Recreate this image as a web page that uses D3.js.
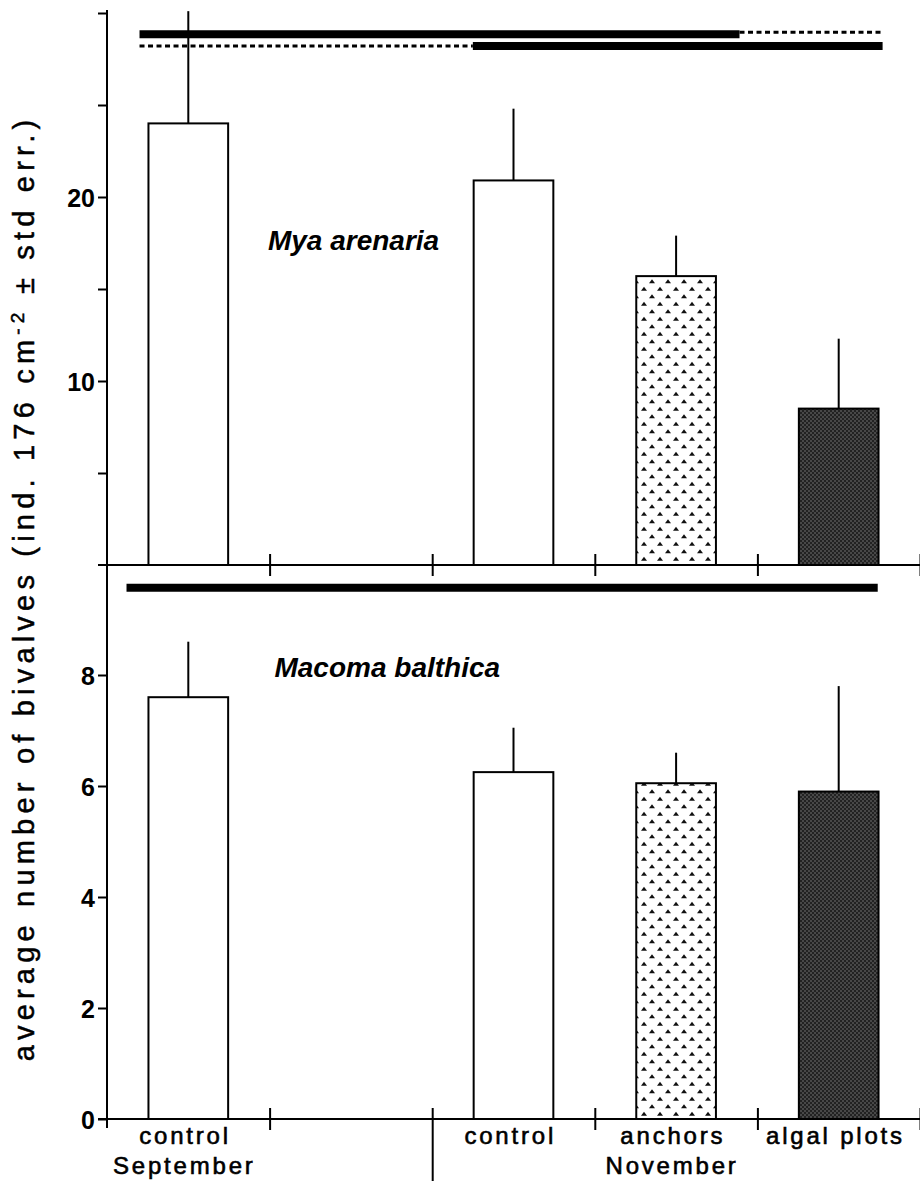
<!DOCTYPE html>
<html>
<head>
<meta charset="utf-8">
<style>
  body { margin: 0; background: #fff; }
  svg text { font-family: "Liberation Sans", Arial, sans-serif; fill: #000; }
  .tick-lbl { font-size: 25px; font-weight: bold; }
  .cat { font-size: 24px; letter-spacing: 2.8px; stroke: #000; stroke-width: 0.6px; }
  .species { font-size: 28px; font-weight: bold; font-style: italic; }
</style>
</head>
<body>
<svg width="920" height="1185"></svg>
<script src="https://d3js.org/d3.v7.min.js"></script>
<script>
// ---- data ----
var categories = ["control", "", "control", "anchors", "algal plots"];
var months = [{ name: "September", pos: 0 }, { name: "November", pos: 3 }];
var fills = ["white", "none", "white", "anchors", "algal"];

// Mya arenaria (top panel)
var myaMean = [24.0, null, 20.9, 15.7, 8.5];
var myaErr  = [6.1, null, 3.9, 2.2, 3.8];
// Macoma balthica (bottom panel)
var macMean = [7.6, null, 6.25, 6.05, 5.9];
var macErr  = [1.0, null, 0.8, 0.55, 1.9];

var myaTicks = [5, 10, 15, 20, 25, 30];
var myaLabels = [10, 20];
var macTicks = [0, 2, 4, 6, 8];

// homogeneous groups (x in category units, y in data units)
var myaSig = [
  { x0: 0.2, x1: 3.89, y: 28.85, kind: "solid" },
  { x0: 3.89, x1: 4.77, y: 28.95, kind: "dot" },
  { x0: 0.2, x1: 2.25, y: 28.2, kind: "dot" },
  { x0: 2.25, x1: 4.77, y: 28.2, kind: "solid" }
];
var macSig = [{ x0: 0.12, x1: 4.74, y: 9.57, kind: "solid" }];

var svg = d3.select("svg");
var defs = svg.append("defs");

// anchors: little dark arches on white, staggered
var pa = defs.append("pattern").attr("id", "anchors")
  .attr("patternUnits", "userSpaceOnUse").attr("width", 16).attr("height", 15);
pa.append("rect").attr("width", 16).attr("height", 15).attr("fill", "#fff");
[[4, 4], [12, 11.5]].forEach(function (p) {
  pa.append("path")
    .attr("d", "M" + (p[0] - 3) + "," + (p[1] + 1.8) + " L" + p[0] + "," + (p[1] - 2.2) + " L" + (p[0] + 3) + "," + (p[1] + 1.8) + " Z")
    .attr("fill", "#111");
});

// algal plots: dark fine-grained texture
var pg = defs.append("pattern").attr("id", "algal")
  .attr("patternUnits", "userSpaceOnUse").attr("width", 4).attr("height", 4);
pg.append("rect").attr("width", 4).attr("height", 4).attr("fill", "#484848");
pg.append("rect").attr("width", 2).attr("height", 2).attr("fill", "#222");
pg.append("rect").attr("x", 2).attr("y", 2).attr("width", 2).attr("height", 2).attr("fill", "#222");

var x = d3.scaleLinear().domain([0, 5]).range([107, 920]);
var barW = (x(1) - x(0)) * 0.49;

var yTop = d3.scaleLinear().domain([0, 30]).range([565, 13]);
var yBot = d3.scaleLinear().domain([0, 8]).range([1119, 675]);

function fillOf(i) {
  if (fills[i] === "anchors") return "url(#anchors)";
  if (fills[i] === "algal") return "url(#algal)";
  return "#fff";
}

function drawPanel(means, errs, y) {
  var g = svg.append("g");
  var idx = d3.range(means.length).filter(function (i) { return means[i] != null; });
  // error whiskers (upper only)
  g.selectAll(".err").data(idx).enter().append("line")
    .attr("x1", function (i) { return x(i + 0.5); })
    .attr("x2", function (i) { return x(i + 0.5); })
    .attr("y1", function (i) { return y(means[i]); })
    .attr("y2", function (i) { return y(means[i] + errs[i]); })
    .attr("stroke", "#000").attr("stroke-width", 2);
  g.selectAll(".bar").data(idx).enter().append("rect")
    .attr("x", function (i) { return x(i + 0.5) - barW / 2; })
    .attr("width", barW)
    .attr("y", function (i) { return y(means[i]); })
    .attr("height", function (i) { return y(0) - y(means[i]); })
    .attr("fill", fillOf)
    .attr("stroke", "#000").attr("stroke-width", 2);
}

function drawSig(lines, y) {
  svg.append("g").selectAll("line").data(lines).enter().append("line")
    .attr("x1", function (d) { return x(d.x0); })
    .attr("x2", function (d) { return x(d.x1); })
    .attr("y1", function (d) { return y(d.y); })
    .attr("y2", function (d) { return y(d.y); })
    .attr("stroke", "#000")
    .attr("stroke-width", function (d) { return d.kind === "solid" ? 8 : 3; })
    .attr("stroke-dasharray", function (d) { return d.kind === "solid" ? null : "5,3.5"; });
}

drawPanel(myaMean, myaErr, yTop);
drawPanel(macMean, macErr, yBot);
drawSig(myaSig, yTop);
drawSig(macSig, yBot);

// ---- axes ----
var axTop = svg.append("g").attr("transform", "translate(" + x(0) + ",0)")
  .call(d3.axisLeft(yTop).tickValues(myaTicks).tickSize(9).tickPadding(3)
    .tickFormat(function (d) { return myaLabels.indexOf(d) >= 0 ? d : ""; }));
var axBot = svg.append("g").attr("transform", "translate(" + x(0) + ",0)")
  .call(d3.axisLeft(yBot).tickValues(macTicks).tickSize(9).tickPadding(3));
[axTop, axBot].forEach(function (a) {
  a.select(".domain").remove();
  a.selectAll("line").attr("stroke-width", 2);
  a.selectAll("text").attr("class", "tick-lbl").attr("dy", "0.36em");
});

// vertical axis line through both panels
svg.append("line").attr("x1", x(0)).attr("x2", x(0))
  .attr("y1", yTop(30) - 3).attr("y2", yBot(0) + 9)
  .attr("stroke", "#000").attr("stroke-width", 2);

// horizontal axes with category separators
function drawXAxis(yPix, longTick) {
  var g = svg.append("g").attr("transform", "translate(0," + yPix + ")")
    .call(d3.axisBottom(x).tickValues([1, 2, 3, 4, 5]).tickSizeInner(11).tickSizeOuter(0).tickFormat(""));
  g.select(".domain").attr("d", "M" + (x(0) - 9) + ",0H" + x(5)).attr("stroke-width", 2);
  g.selectAll(".tick line").attr("y1", -11).attr("stroke-width", 2)
    .attr("y2", function (d) { return longTick && d === 2 ? 62 : 11; });
}
drawXAxis(yTop(0), false);
drawXAxis(yBot(0), true);

// category labels
svg.append("g").selectAll("text").data(categories).enter().append("text")
  .attr("class", "cat")
  .attr("x", function (d, i) { return x(i + 0.48); })
  .attr("y", yBot(0) + 25)
  .attr("text-anchor", "middle")
  .text(function (d) { return d; });
svg.append("g").selectAll("text").data(months).enter().append("text")
  .attr("class", "cat")
  .attr("x", function (d) { return x(d.pos + 0.5) - 4; })
  .attr("y", yBot(0) + 55)
  .attr("text-anchor", "middle")
  .text(function (d) { return d.name; });

// species labels
svg.append("text").attr("class", "species")
  .attr("x", x(0.99)).attr("y", yTop(17.1)).text("Mya arenaria");
svg.append("text").attr("class", "species")
  .attr("x", x(1.03)).attr("y", yBot(7.96)).text("Macoma balthica");

// y axis title
var yt = svg.append("text")
  .attr("transform", "translate(34,588) rotate(-90)")
  .attr("text-anchor", "middle")
  .style("font-size", "29px")
  .style("letter-spacing", "5.2px")
  .style("stroke", "#000").style("stroke-width", "0.5px");
yt.append("tspan").text("average number of bivalves (ind. 176 cm");
yt.append("tspan").attr("dy", -10).style("font-size", "19px").text("-2");
yt.append("tspan").attr("dy", 10).text(" \u00b1 std err.)");
</script>
</body>
</html>
